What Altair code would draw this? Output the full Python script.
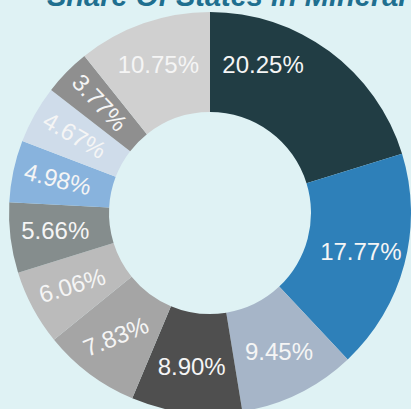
import altair as alt
import pandas as pd

title_text = "Share Of States in Mineral Production"
states = ["State A", "State B", "State C", "State D", "State E", "State F",
          "State G", "State H", "State I", "State J", "Others"]
shares = [20.25, 17.77, 9.45, 8.90, 7.83, 6.06, 5.66, 4.98, 4.67, 3.77, 10.75]
colors = ["#213d44", "#2e80b9", "#a6b5c8", "#4f4f4f", "#a5a5a5", "#bbbbbb",
          "#858d8d", "#88b3dd", "#cfdcea", "#8f8f8f", "#d0d0d0"]
# label styling (kept apart from the data)
label_rotation = [0, 0, 0, 0, 338, 343, 0, 14, 30, 47, 0]
label_shift = [-4.6, 0, 0, 0, 0, 0, 0, 0, 0, 0, 0]

total = sum(shares)

df = pd.DataFrame({
    "state": states,
    "share": shares,
    "order": list(range(len(shares))),
    "label": [f"{v:.2f}%" for v in shares],
    "rot": label_rotation,
    "shift": label_shift,
})

cx, cy = 210, 213
theta_scale = alt.Scale(domain=[0, total])

arcs = alt.Chart(df).mark_arc(innerRadius=101, outerRadius=201).encode(
    theta=alt.Theta("share:Q", stack=True, scale=theta_scale),
    order=alt.Order("order:Q"),
    color=alt.Color("state:N", scale=alt.Scale(domain=states, range=colors), legend=None),
    x=alt.value(cx),
    y=alt.value(cy),
)

labels = alt.Chart(df).transform_window(
    cum="sum(share)", sort=[alt.SortField("order")], frame=[None, 0]
).transform_calculate(
    mid="datum.cum - datum.share / 2 + datum.shift"
).mark_text(radius=156, font="Liberation Sans", fontSize=24, color="#f5f5f5").encode(
    theta=alt.Theta("mid:Q", stack=None, scale=theta_scale),
    text="label:N",
    angle=alt.Angle("rot:Q", scale=None),
    x=alt.value(cx),
    y=alt.value(cy),
)

title = alt.Chart(pd.DataFrame({"t": [title_text]})).mark_text(
    align="left", baseline="alphabetic", font="Liberation Sans", fontSize=29,
    fontWeight="bold", fontStyle="italic", color="#1f6f8f",
).encode(text="t:N", x=alt.value(47), y=alt.value(6))

chart = alt.layer(arcs, labels, title).properties(
    width=411, height=409,
    autosize=alt.AutoSizeParams(type="none"),
    padding=0,
    background="#dff2f4",
).configure_view(stroke=None)

chart.save("out.html", embed_options={"renderer": "svg", "actions": False})
